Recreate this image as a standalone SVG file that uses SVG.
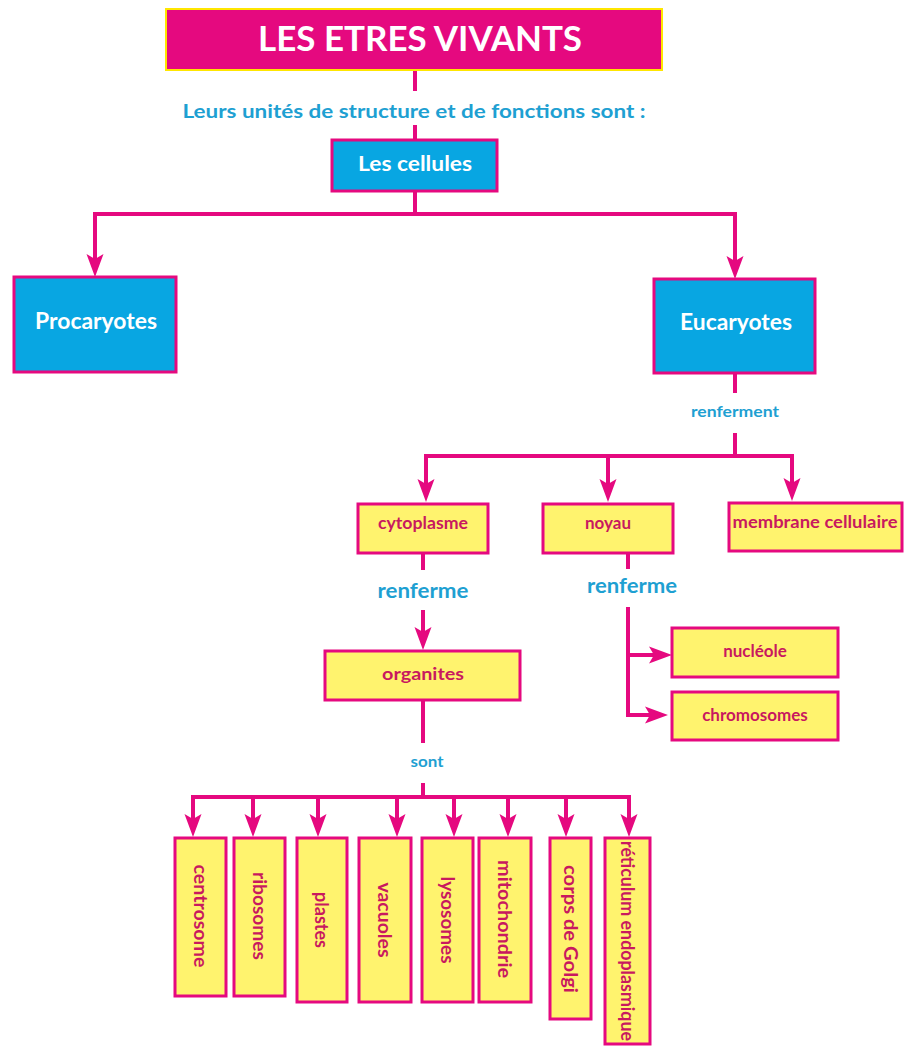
<svg xmlns="http://www.w3.org/2000/svg" xmlns:xlink="http://www.w3.org/1999/xlink" width="904" height="1046" viewBox="0 0 904 1046">
<style>
text{font-family:Lato,"Liberation Sans",sans-serif;font-weight:bold;text-anchor:middle}
.ln{stroke:#E5097F;stroke-width:4;fill:none}
.ah{fill:#E5097F}
.blue{fill:#08A6E2;stroke:#E5097F;stroke-width:3}
.yel{fill:#FFF36E;stroke:#E5097F;stroke-width:3}
.wt{fill:#FFFFFF}
.lbl{fill:#1EA0D2}
.yt{fill:#C8195F;font-size:17px}
.vt{fill:#C8195F;font-size:18px;dominant-baseline:central}
</style>
<defs>
<path id="ad" d="M0,0 L-8.5,-23 L0,-18 L8.5,-23 Z"/>
<path id="ar" d="M0,0 L-23,-8.5 L-18,0 L-23,8.5 Z"/>
</defs>
<rect width="904" height="1046" fill="#FFFFFF"/>

<g id="connectors">
<path class="ln" d="M415,70 V91 M415,125 V140"/>
<path class="ln" d="M415,191 V214 M95,214 H735 M95,212 V260 M735,212 V262"/>
<use xlink:href="#ad" class="ah" x="95" y="277"/>
<use xlink:href="#ad" class="ah" x="735" y="279"/>
<path class="ln" d="M735,373 V393 M735,433 V456 M426,456 H792 M426,454 V485 M608,456 V485 M792,454 V484"/>
<use xlink:href="#ad" class="ah" x="426" y="502"/>
<use xlink:href="#ad" class="ah" x="608" y="502"/>
<use xlink:href="#ad" class="ah" x="792" y="501"/>
<path class="ln" d="M423,553 V570 M423,610 V633"/>
<use xlink:href="#ad" class="ah" x="423" y="650"/>
<path class="ln" d="M628,553 V569 M628,607 V715 H651 M628,655 H655"/>
<use xlink:href="#ar" class="ah" x="672" y="655"/>
<use xlink:href="#ar" class="ah" x="668" y="715"/>
<path class="ln" d="M423,700 V743 M423,783 V797 M193,797 H629 M193,795 V820 M253,797 V820 M318,797 V820 M397,797 V820 M454,797 V820 M508,797 V820 M566,797 V820 M629,795 V820"/>
<use xlink:href="#ad" class="ah" x="193" y="837"/>
<use xlink:href="#ad" class="ah" x="253" y="837"/>
<use xlink:href="#ad" class="ah" x="318" y="837"/>
<use xlink:href="#ad" class="ah" x="397" y="837"/>
<use xlink:href="#ad" class="ah" x="454" y="837"/>
<use xlink:href="#ad" class="ah" x="508" y="837"/>
<use xlink:href="#ad" class="ah" x="566" y="837"/>
<use xlink:href="#ad" class="ah" x="629" y="837"/>
<text class="lbl" x="414" y="118" font-size="18" textLength="463" lengthAdjust="spacingAndGlyphs">Leurs unités de structure et de fonctions sont :</text>
<text class="lbl" x="735" y="417" font-size="15" textLength="88" lengthAdjust="spacingAndGlyphs">renferment</text>
<text class="lbl" x="423" y="598" font-size="20" textLength="91" lengthAdjust="spacingAndGlyphs">renferme</text>
<text class="lbl" x="632" y="593" font-size="20" textLength="90" lengthAdjust="spacingAndGlyphs">renferme</text>
<text class="lbl" x="427" y="767" font-size="15" textLength="33" lengthAdjust="spacingAndGlyphs">sont</text>
</g>

<g id="title">
<rect x="166" y="9" width="496" height="61" fill="#E5097F" stroke="#FFE600" stroke-width="2"/>
<text class="wt" x="420" y="51" font-size="35" textLength="324" lengthAdjust="spacingAndGlyphs">LES ETRES VIVANTS</text>
</g>
<g id="cellules">
<rect class="blue" x="332" y="140" width="165" height="51"/>
<text class="wt" x="415" y="171" font-size="21" textLength="114" lengthAdjust="spacingAndGlyphs">Les cellules</text>
</g>
<g id="procaryotes">
<rect class="blue" x="14" y="277" width="162" height="95"/>
<text class="wt" x="96" y="329" font-size="22" textLength="122" lengthAdjust="spacingAndGlyphs">Procaryotes</text>
</g>
<g id="eucaryotes">
<rect class="blue" x="654" y="279" width="161" height="94"/>
<text class="wt" x="736" y="330" font-size="22" textLength="112" lengthAdjust="spacingAndGlyphs">Eucaryotes</text>
</g>
<g id="cytoplasme">
<rect class="yel" x="358" y="504" width="130" height="49"/>
<text class="yt" x="423" y="529" textLength="90" lengthAdjust="spacingAndGlyphs">cytoplasme</text>
</g>
<g id="noyau">
<rect class="yel" x="543" y="504" width="130" height="49"/>
<text class="yt" x="608" y="529">noyau</text>
</g>
<g id="membrane">
<rect class="yel" x="729" y="503" width="173" height="48"/>
<text class="yt" x="815" y="528" textLength="165" lengthAdjust="spacingAndGlyphs">membrane cellulaire</text>
</g>
<g id="organites">
<rect class="yel" x="325" y="651" width="195" height="49"/>
<text class="yt" x="423" y="680" font-size="19" textLength="82" lengthAdjust="spacingAndGlyphs">organites</text>
</g>
<g id="nucleole">
<rect class="yel" x="672" y="628" width="166" height="49"/>
<text class="yt" x="755" y="657" font-size="18">nucléole</text>
</g>
<g id="chromosomes">
<rect class="yel" x="672" y="692" width="166" height="48"/>
<text class="yt" x="755" y="721" font-size="18">chromosomes</text>
</g>
<g id="centrosome">
<rect class="yel" x="175" y="838" width="51" height="158"/>
<text class="vt" transform="translate(200.5,916) rotate(90)" textLength="103" lengthAdjust="spacingAndGlyphs">centrosome</text>
</g>
<g id="ribosomes">
<rect class="yel" x="234" y="838" width="51" height="158"/>
<text class="vt" transform="translate(259.5,916) rotate(90)" textLength="88" lengthAdjust="spacingAndGlyphs">ribosomes</text>
</g>
<g id="plastes">
<rect class="yel" x="297" y="838" width="50" height="164"/>
<text class="vt" transform="translate(322,920) rotate(90)" textLength="56" lengthAdjust="spacingAndGlyphs">plastes</text>
</g>
<g id="vacuoles">
<rect class="yel" x="359" y="838" width="52" height="164"/>
<text class="vt" transform="translate(385,920) rotate(90)" textLength="75" lengthAdjust="spacingAndGlyphs">vacuoles</text>
</g>
<g id="lysosomes">
<rect class="yel" x="422" y="838" width="51" height="164"/>
<text class="vt" transform="translate(447.5,920) rotate(90)" textLength="87" lengthAdjust="spacingAndGlyphs">lysosomes</text>
</g>
<g id="mitochondrie">
<rect class="yel" x="479" y="838" width="52" height="164"/>
<text class="vt" transform="translate(505,919) rotate(90)" textLength="118" lengthAdjust="spacingAndGlyphs">mitochondrie</text>
</g>
<g id="golgi">
<rect class="yel" x="550" y="838" width="41" height="181"/>
<text class="vt" transform="translate(570.5,929) rotate(90)" textLength="128" lengthAdjust="spacingAndGlyphs">corps de Golgi</text>
</g>
<g id="reticulum">
<rect class="yel" x="605" y="838" width="45" height="206"/>
<text class="vt" transform="translate(627.5,941) rotate(90)" textLength="200" lengthAdjust="spacingAndGlyphs">réticulum endoplasmique</text>
</g>
</svg>
